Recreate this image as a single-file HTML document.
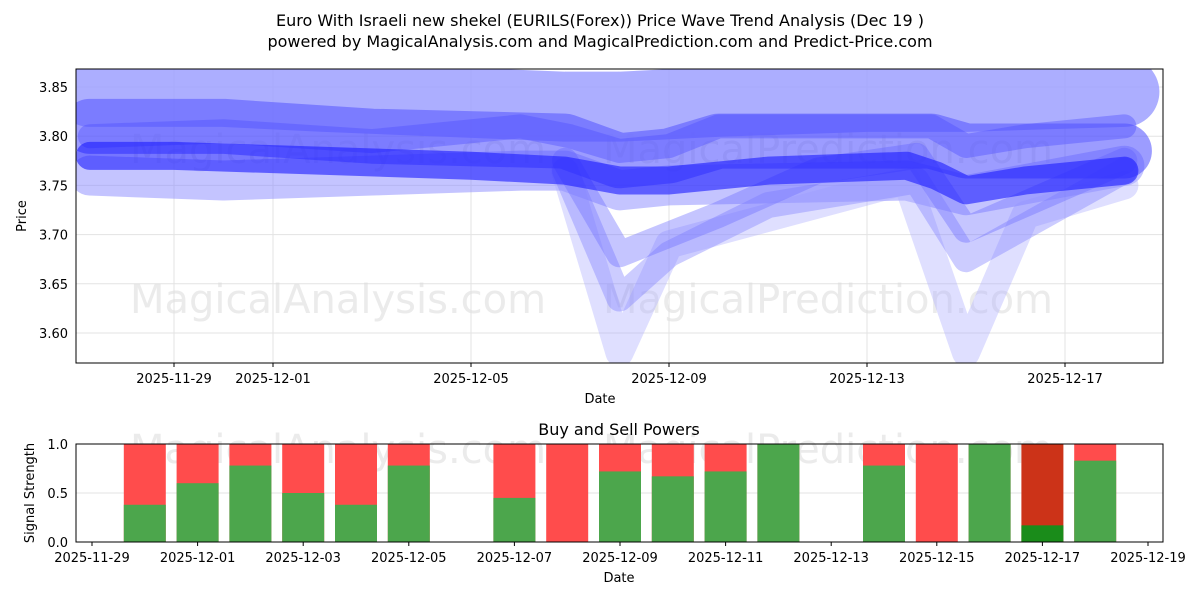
<!DOCTYPE html>
<html><head><meta charset="utf-8"><style>
body{margin:0;background:#fff;font-family:"Liberation Sans","DejaVu Sans",sans-serif}
svg text{font-family:"DejaVu Sans","Liberation Sans",sans-serif}
</style></head><body>
<svg id="c" width="1200" height="600" xmlns="http://www.w3.org/2000/svg">
<text x="600" y="26" text-anchor="middle" font-size="16">Euro With Israeli new shekel (EURILS(Forex)) Price Wave Trend Analysis (Dec 19 )</text>
<text x="600" y="47" text-anchor="middle" font-size="16">powered by MagicalAnalysis.com and MagicalPrediction.com and Predict-Price.com</text>
<defs><clipPath id="cp"><rect x="76" y="69" width="1087" height="294"/></clipPath></defs>
<g id="topPanel"></g>
<g id="botPanel"></g>
</svg>
<script>
// price chart data (day offset from 2025-11-27, price)
const bandA = [[0.3,3.845],[3,3.845],[5,3.84],[9.9,3.83],[11,3.83],[13,3.835],[16,3.84],[18,3.84],[21.2,3.845]];
const bandB = [[0.3,3.81],[3,3.81],[6,3.80],[9.9,3.795],[11,3.775],[12,3.78],[13,3.795],[16,3.795],[17.3,3.795],[18,3.785],[21.2,3.785]];
const bandC = [[0.3,3.76],[3,3.755],[6,3.76],[9,3.765],[9.9,3.765],[11,3.745],[12,3.75],[16.8,3.755],[18,3.74],[21.2,3.77]];
const coreD = [[0.3,3.78],[2,3.78],[5,3.775],[8,3.77],[9.9,3.765],[11,3.755],[12,3.755],[14,3.765],[16.8,3.77],[17.4,3.76],[18,3.745],[19.2,3.755],[21.2,3.765]];
const dipE = [[9.9,3.765],[11,3.58],[12,3.69],[16.8,3.755],[18,3.58],[19.2,3.72],[21.2,3.75]];
const dipF = [[9.9,3.765],[11,3.635],[12,3.68],[14,3.73],[17,3.755],[18,3.675],[21.2,3.765]];
const dipG = [[9.9,3.775],[11,3.68],[13,3.72],[15,3.765],[17,3.78],[18,3.705],[21.2,3.775]];
const topH = [[0.3,3.80],[3,3.805],[6,3.795],[9,3.81],[10,3.80],[11,3.785],[12,3.79],[13,3.81],[16,3.81],[17.3,3.81],[18,3.79],[19.2,3.80],[21.2,3.81]];
const priceTicks = [3.60,3.65,3.70,3.75,3.80,3.85];
const dateTicks = ["2025-11-29","2025-12-01","2025-12-05","2025-12-09","2025-12-13","2025-12-17"];
const dateTickDays = [2,4,8,12,16,20];
// signal bars
const barDates = ["11-30","12-01","12-02","12-03","12-04","12-05","12-07","12-08","12-09","12-10","12-11","12-12","12-14","12-15","12-16","12-17","12-18"];
const barDays = [1,2,3,4,5,6,8,9,10,11,12,13,15,16,17,18,19];
const buyVals = [0.38,0.6,0.78,0.5,0.38,0.78,0.45,0,0.72,0.67,0.72,1.0,0.78,0,1.0,0.17,0.83];
const botTicks = ["2025-11-29","2025-12-01","2025-12-03","2025-12-05","2025-12-07","2025-12-09","2025-12-11","2025-12-13","2025-12-15","2025-12-17","2025-12-19"];
const botTickDays = [0,2,4,6,8,10,12,14,16,18,20];

const NS="http://www.w3.org/2000/svg";
function mk(p,t,a){const e=document.createElementNS(NS,t);for(const k in a)e.setAttribute(k,a[k]);p.appendChild(e);return e;}
const topG=document.getElementById('topPanel'), botG=document.getElementById('botPanel');
const X=d=>75+d*49.5, Y=v=>87+(3.85-v)/0.05*49.2;
priceTicks.forEach(v=>{mk(topG,'line',{x1:76,x2:1163,y1:Y(v),y2:Y(v),stroke:'#e3e3e3'});
 const t=mk(topG,'text',{x:68,y:Y(v)+5,'text-anchor':'end','font-size':13});t.textContent=v.toFixed(2);
 
 });
dateTicks.forEach((s,i)=>{const x=X(dateTickDays[i]);mk(topG,'line',{x1:x,x2:x,y1:69,y2:363,stroke:'#e3e3e3'});
 mk(topG,'line',{x1:x,x2:x,y1:363,y2:367,stroke:'#000'});
 const t=mk(topG,'text',{x:x,y:383,'text-anchor':'middle','font-size':13});t.textContent=s;
 
 });
const wm=(g,x,y,s)=>{const t=mk(g,'text',{x:x,y:y,'font-size':40,fill:'#ddd','fill-opacity':0.6});t.textContent=s;
 
 };
wm(topG,130,163,'MagicalAnalysis.com');wm(topG,603,163,'MagicalPrediction.com');
wm(topG,130,313,'MagicalAnalysis.com');wm(topG,603,313,'MagicalPrediction.com');
const lg=mk(topG,'g',{'clip-path':'url(#cp)'});
function band(pts,w,col,op,name){const e=mk(lg,'polyline',{points:pts.map(p=>X(p[0])+','+Y(p[1])).join(' '),fill:'none',stroke:col,'stroke-width':w,'stroke-opacity':op,'stroke-linejoin':'round','stroke-linecap':'round'});
 
 }
band(bandA,70,'#9ea0ff',0.85,'wave-band-a');
band(bandC,40,'#8a8aff',0.5,'wave-band-c');
band(dipE,28,'#b0b0ff',0.4,'wave-dip-e');
band(dipF,26,'#7f7fff',0.4,'wave-dip-f');
band(dipG,26,'#6f6fff',0.4,'wave-dip-g');
band(bandB,55,'#5a5aff',0.6,'wave-band-b');
band(topH,24,'#4e4eff',0.4,'wave-top-h');
band(coreD,28,'#1a1aff',0.6,'wave-core-d');
mk(topG,'rect',{x:76,y:69,width:1087,height:294,fill:'none',stroke:'#000'});
let t=mk(topG,'text',{x:600,y:403,'text-anchor':'middle','font-size':13});t.textContent='Date';
t=mk(topG,'text',{x:26,y:216,'text-anchor':'middle','font-size':13,transform:'rotate(-90 26 216)'});t.textContent='Price';

const BX=d=>92+d*52.8, BY=v=>542-v*98;
[0,0.5,1].forEach(v=>{mk(botG,'line',{x1:76,x2:1163,y1:BY(v),y2:BY(v),stroke:'#e3e3e3'});
 const t=mk(botG,'text',{x:68,y:BY(v)+5,'text-anchor':'end','font-size':13});t.textContent=v.toFixed(1);
 
 });
wm(botG,130,463,'MagicalAnalysis.com');wm(botG,603,463,'MagicalPrediction.com');
barDays.forEach((d,i)=>{const cx=BX(d), v=buyVals[i], dark=i===15;
 const r=mk(botG,'rect',{x:cx-21,y:BY(1),width:42,height:98,fill:dark?'#cc3318':'#ff4c4c'});
 
 
 const g=mk(botG,'rect',{x:cx-21,y:BY(v),width:42,height:v*98,fill:dark?'#1a8c1a':'#4ca64c'});
 
 });
botTicks.forEach((s,i)=>{const x=BX(botTickDays[i]);mk(botG,'line',{x1:x,x2:x,y1:542,y2:546,stroke:'#000'});
 const t=mk(botG,'text',{x:x,y:562,'text-anchor':'middle','font-size':13});t.textContent=s;
 
 });
mk(botG,'rect',{x:76,y:444,width:1087,height:98,fill:'none',stroke:'#000'});
t=mk(botG,'text',{x:619,y:435,'text-anchor':'middle','font-size':16});t.textContent='Buy and Sell Powers';
t=mk(botG,'text',{x:619,y:582,'text-anchor':'middle','font-size':13});t.textContent='Date';
t=mk(botG,'text',{x:34,y:493,'text-anchor':'middle','font-size':13,transform:'rotate(-90 34 493)'});t.textContent='Signal Strength';
</script>
</body></html>
